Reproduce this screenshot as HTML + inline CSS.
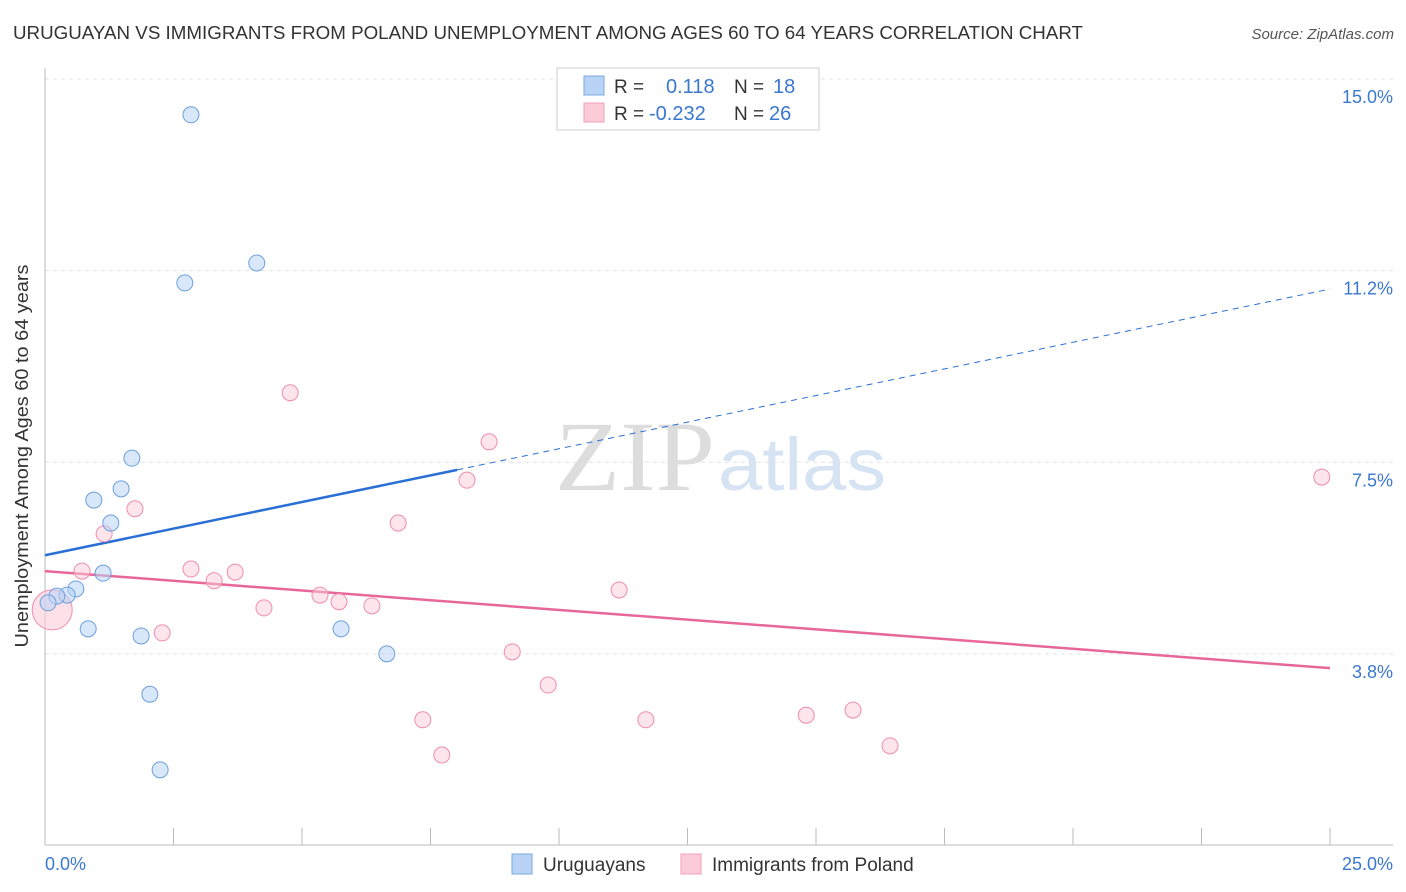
<!DOCTYPE html>
<html><head><meta charset="utf-8"><style>
body{margin:0;background:#fff;font-family:"Liberation Sans",sans-serif;}
svg{display:block}
</style></head><body>
<svg width="1406" height="892">
<text x="13" y="39" font-size="18" fill="#333" textLength="1070" lengthAdjust="spacingAndGlyphs">URUGUAYAN VS IMMIGRANTS FROM POLAND UNEMPLOYMENT AMONG AGES 60 TO 64 YEARS CORRELATION CHART</text>
<text x="1394" y="39" font-size="15" fill="#555" font-style="italic" text-anchor="end">Source: ZipAtlas.com</text>
<text x="555" y="490" font-size="100" fill="#ddd" textLength="160" lengthAdjust="spacingAndGlyphs" font-family="Liberation Serif">ZIP</text>
<text x="718" y="490" font-size="74" fill="#d6e3f3" textLength="168" lengthAdjust="spacingAndGlyphs">atlas</text>
<g id="grid"></g>
<line x1="45" y1="68" x2="45" y2="845" stroke="#bbb"/>
<line x1="45" y1="845" x2="1393" y2="845" stroke="#bbb"/>
<text x="28" y="456" font-size="18" fill="#333" text-anchor="middle" textLength="383" lengthAdjust="spacingAndGlyphs" transform="rotate(-90 28 456)">Unemployment Among Ages 60 to 64 years</text>
<text x="45" y="870" font-size="18" fill="#3a78d0">0.0%</text>
<text x="1393" y="870" font-size="18" fill="#3a78d0" text-anchor="end">25.0%</text>
<g id="lines"></g>
<g id="points"></g>
<g>
<rect x="557" y="68" width="262" height="62" fill="#fff" stroke="#ccc"/>
<rect x="584" y="76" width="20" height="19" fill="#b8d3f5" stroke="#7aa8e0"/>
<rect x="584" y="103" width="20" height="19" fill="#fbcbd8" stroke="#f0a0b8"/>
<text x="614" y="93" font-size="19" fill="#333">R = </text><text x="666" y="93" font-size="20" fill="#3a78d0">0.118</text>
<text x="734" y="93" font-size="19" fill="#333">N = </text><text x="773" y="93" font-size="20" fill="#3a78d0">18</text>
<text x="614" y="120" font-size="19" fill="#333">R = </text><text x="649" y="120" font-size="20" fill="#3a78d0">-0.232</text>
<text x="734" y="120" font-size="19" fill="#333">N = </text><text x="769" y="120" font-size="20" fill="#3a78d0">26</text>
</g>
<g>
<rect x="512" y="854" width="20" height="20" fill="#b8d3f5" stroke="#7aa8e0"/>
<text x="543" y="871" font-size="19" fill="#333">Uruguayans</text>
<rect x="681" y="854" width="20" height="20" fill="#fbcbd8" stroke="#f0a0b8"/>
<text x="712" y="871" font-size="19" fill="#333">Immigrants from Poland</text>
</g>
</svg>
<script>
const yTicks=[15.0,11.25,7.5,3.75];
const yTickLabels=["15.0%","11.2%","7.5%","3.8%"];
const blueX=[2.84,2.72,4.12,1.69,1.48,0.95,1.28,1.13,0.60,0.43,0.23,0.06,0.84,1.87,5.76,6.65,2.04,2.24];
const blueY=[14.30,11.01,11.40,7.58,6.98,6.76,6.31,5.33,5.02,4.90,4.88,4.75,4.24,4.10,4.24,3.75,2.96,1.48];
const pinkX=[4.77,8.64,8.21,24.84,1.75,1.15,6.87,0.72,2.84,3.70,3.29,5.35,5.72,6.36,4.26,11.17,2.28,9.09,9.79,7.35,11.69,14.81,15.72,16.44,7.72,0.14];
const pinkY=[8.86,7.90,7.15,7.21,6.59,6.10,6.31,5.37,5.41,5.35,5.18,4.90,4.77,4.69,4.65,5.00,4.16,3.79,3.14,2.46,2.46,2.55,2.65,1.95,1.77,4.61];
const blueTrend=[5.68,10.89];
const blueSolidEnd=8.02;
const pinkTrend=[5.37,3.47];
const NS="http://www.w3.org/2000/svg";
const sx=v=>45+v*51.4, sy=v=>79+(15-v)*51.1;
function mk(t,a,p){const e=document.createElementNS(NS,t);for(const k in a)e.setAttribute(k,a[k]);p.appendChild(e);return e;}
const grid=document.getElementById('grid');
yTicks.forEach((t,i)=>{
 const l=mk('line',{x1:45,x2:1393,y1:sy(t),y2:sy(t),stroke:'#e2e2e2','stroke-dasharray':'4,4'},grid);
 
 
 const tx=mk('text',{x:1393,y:sy(t)+24,'font-size':18,fill:'#3a78d0','text-anchor':'end'},grid);
 tx.textContent=yTickLabels[i];
 
 
});
for(let i=0;i<=10;i++){
 const l=mk('line',{x1:sx(i*2.5),x2:sx(i*2.5),y1:828,y2:845,stroke:'#bbb'},grid);
 
 
}
const lines=document.getElementById('lines');
const bAt=v=>blueTrend[0]+(blueTrend[1]-blueTrend[0])*v/25;
let l1=mk('line',{x1:sx(0),y1:sy(bAt(0)),x2:sx(blueSolidEnd),y2:sy(bAt(blueSolidEnd)),stroke:'#2a6fd6','stroke-width':2.5},lines);


let l2=mk('line',{x1:sx(blueSolidEnd),y1:sy(bAt(blueSolidEnd)),x2:sx(25),y2:sy(bAt(25)),stroke:'#2a6fd6','stroke-width':1,'stroke-dasharray':'6,5'},lines);


let l3=mk('line',{x1:sx(0),y1:sy(pinkTrend[0]),x2:sx(25),y2:sy(pinkTrend[1]),stroke:'#e8679a','stroke-width':2.5},lines);


const pts=document.getElementById('points');
pinkX.forEach((x,i)=>{
 const big=i===pinkX.length-1;
 const c=mk('circle',{cx:sx(x),cy:sy(pinkY[i]),r:big?20:8,fill:'#fbcbd8','fill-opacity':big?0.6:0.5,stroke:'#f08cb0','stroke-width':1},pts);
 
 
});
blueX.forEach((x,i)=>{
 const c=mk('circle',{cx:sx(x),cy:sy(blueY[i]),r:8,fill:'#b8d3f5','fill-opacity':0.55,stroke:'#6d9fdc','stroke-width':1},pts);
 
 
});
</script>
</body></html>
